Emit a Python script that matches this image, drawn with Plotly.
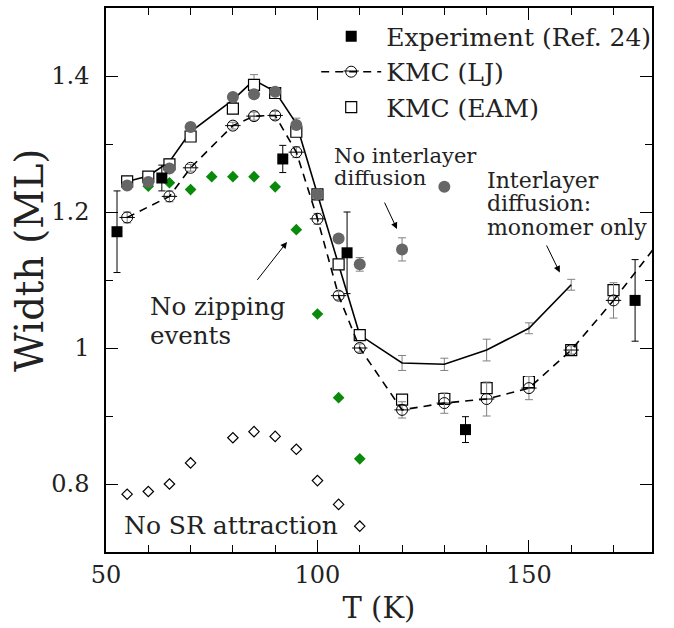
import plotly.graph_objects as go

# ---------------- data ----------------
exp_T = [52.6, 63.2, 91.8, 107.0, 135.0, 175.1]
exp_W = [1.171, 1.250, 1.278, 1.140, 0.880, 1.070]
exp_err = [0.06, 0.019, 0.02, 0.06, 0.019, 0.06]

lj_T = [55, 65, 70, 80, 85, 90, 95, 100, 105, 110, 120, 130, 140, 150, 160, 170]
lj_W = [1.192, 1.223, 1.265, 1.327, 1.341, 1.342, 1.288, 1.190, 1.077, 1.000,
        0.909, 0.919, 0.925, 0.941, 0.997, 1.070]
lj_err = [0.008, 0.008, 0.005, 0.005, 0.006, 0.006, 0.008, 0.008, 0.006, 0.006,
          0.012, 0.015, 0.025, 0.017, 0.006, 0.026]
lj_tail_T = [180]
lj_tail_W = [1.15]

eam_T = [55, 60, 65, 70, 80, 85, 90, 95, 100, 105, 110, 120, 130, 140, 150, 160, 170]
eam_W = [1.245, 1.252, 1.270, 1.311, 1.352, 1.387, 1.375, 1.318, 1.226, 1.123, 1.019,
         0.924, 0.925, 0.941, 0.950, 0.997, 1.085]

mono_T = [55, 60, 65, 70, 80, 85, 90, 95, 100, 105, 110, 120, 130, 140, 150, 160]
mono_W = [1.245, 1.253, 1.274, 1.318, 1.365, 1.394, 1.377, 1.330, 1.226, 1.123, 1.019,
          0.978, 0.976, 0.997, 1.029, 1.093]
mono_err = [0.004, 0.004, 0.004, 0.004, 0.004, 0.008, 0.004, 0.008, 0.004, 0.004, 0.006,
            0.011, 0.009, 0.016, 0.008, 0.008]

noil_T = [55, 60, 65, 70, 80, 85, 90, 95, 100, 105, 110, 120, 130]
noil_W = [1.239, 1.244, 1.264, 1.325, 1.369, 1.373, 1.377, 1.328, 1.226, 1.161, 1.123,
          1.145, 1.237]
noil_err = [0, 0, 0, 0, 0, 0, 0, 0, 0, 0, 0.01, 0.017, 0]

nozip_T = [55, 60, 65, 70, 75, 80, 85, 90, 95, 100, 105, 110]
nozip_W = [1.245, 1.238, 1.243, 1.233, 1.252, 1.252, 1.252, 1.237, 1.174, 1.050, 0.927, 0.837]

nosr_T = [55, 60, 65, 70, 80, 85, 90, 95, 100, 105, 110]
nosr_W = [0.785, 0.789, 0.800, 0.831, 0.868, 0.877, 0.870, 0.851, 0.805, 0.770, 0.738]

x_ticks = [50, 100, 150]
y_ticks = [0.8, 1.0, 1.2, 1.4]
y_ticktext = ["0.8", "1", "1.2", "1.4"]

FONT = "DejaVu Serif"
TXT = "#222222"
GRAY_ERR = "#808080"

fig = go.Figure()

# No SR attraction (open diamonds)
fig.add_trace(go.Scatter(x=nosr_T, y=nosr_W, mode="markers", showlegend=False,
                         marker=dict(symbol="diamond-open", size=8, color="black",
                                     line=dict(width=1.2, color="black"))))
# No zipping (green diamonds)
fig.add_trace(go.Scatter(x=nozip_T, y=nozip_W, mode="markers", showlegend=False,
                         marker=dict(symbol="diamond", size=9, color="#0a8a0a",
                                     line=dict(width=0))))
# monomer-only solid line with error bars
fig.add_trace(go.Scatter(x=mono_T, y=mono_W, mode="lines", showlegend=False,
                         line=dict(color="black", width=1.6),
                         error_y=dict(type="data", array=mono_err, color=GRAY_ERR,
                                      thickness=1, width=4)))
# LJ dashed tail
fig.add_trace(go.Scatter(x=[lj_T[-1]] + lj_tail_T, y=[lj_W[-1]] + lj_tail_W,
                         mode="lines", showlegend=False,
                         line=dict(color="black", width=1.6, dash="8px,6px")))
# EAM squares
fig.add_trace(go.Scatter(x=eam_T, y=eam_W, mode="markers", name="KMC (EAM)",
                         marker=dict(symbol="square", size=11, color="white",
                                     line=dict(width=1.2, color="black"))))
# LJ dashed with circles
fig.add_trace(go.Scatter(x=lj_T, y=lj_W, mode="lines+markers", name="KMC (LJ)",
                         line=dict(color="black", width=1.6, dash="8px,6px"),
                         marker=dict(symbol="circle-open", size=11, color="black",
                                     line=dict(width=1)),
                         error_y=dict(type="data", array=lj_err, color=GRAY_ERR,
                                      thickness=1, width=4)))
# horizontal bar inside the LJ circles (theta-like symbol); its legend entry is
# overlaid on the KMC (LJ) legend symbol through a second legend
fig.add_trace(go.Scatter(x=lj_T, y=lj_W, mode="markers", name=" ",
                         showlegend=True, legend="legend2",
                         marker=dict(symbol="line-ew-open", size=11, color="black",
                                     line=dict(width=1, color="black"))))
# No interlayer diffusion (gray circles)
fig.add_trace(go.Scatter(x=noil_T, y=noil_W, mode="markers", showlegend=False,
                         marker=dict(symbol="circle", size=12, color="#666666",
                                     line=dict(width=0)),
                         error_y=dict(type="data", array=noil_err, color=GRAY_ERR,
                                      thickness=1, width=4)))
# Experiment
fig.add_trace(go.Scatter(x=exp_T, y=exp_W, mode="markers", name="Experiment (Ref. 24)",
                         marker=dict(symbol="square", size=11, color="black",
                                     line=dict(width=0)),
                         error_y=dict(type="data", array=exp_err, color="black",
                                      thickness=1, width=3.5)))

axis_common = dict(showline=True, linecolor="black", linewidth=1.5, mirror="ticks",
                   ticks="inside", ticklen=12, tickwidth=1.3, tickcolor="black",
                   showgrid=False, zeroline=False,
                   tickfont=dict(family=FONT, size=24, color=TXT))

fig.update_xaxes(range=[50, 179.1], tickvals=x_ticks,
                 minor=dict(dtick=10, tick0=50, ticks="inside", ticklen=7,
                            tickwidth=1.3, tickcolor="black", showgrid=False),
                 title=dict(text="T (K)", font=dict(family=FONT, size=29, color=TXT),
                            standoff=10),
                 **axis_common)
fig.update_yaxes(range=[0.7, 1.5], tickvals=y_ticks, ticktext=y_ticktext,
                 minor=dict(dtick=0.1, tick0=0.7, ticks="inside", ticklen=7,
                            tickwidth=1.3, tickcolor="black", showgrid=False),
                 ticklabelstandoff=10,
                 **axis_common)

ann = []
def txt(x, y, s, size):
    ann.append(dict(x=x, y=y, xref="x", yref="y", text=s, showarrow=False,
                    xanchor="left", yanchor="middle",
                    font=dict(family=FONT, size=size, color=TXT)))

txt(103.4, 1.283, "No interlayer", 21)
txt(103.4, 1.250, "diffusion", 21)
txt(139.6, 1.247, "Interlayer", 22)
txt(139.6, 1.212, "diffusion:", 22)
txt(139.6, 1.177, "monomer only", 22)
txt(59.9, 1.061, "No zipping", 24.5)
txt(59.9, 1.018, "events", 24.5)
txt(53.8, 0.739, "No SR attraction", 25)

def arrow(x0, y0, x1, y1):
    ann.append(dict(x=x1, y=y1, ax=x0, ay=y0, xref="x", yref="y", axref="x", ayref="y",
                    text="", showarrow=True, arrowhead=2, arrowsize=1.3,
                    arrowwidth=1, arrowcolor="black"))

arrow(115.7, 1.216, 118.8, 1.175)
arrow(154.0, 1.153, 157.3, 1.111)
arrow(85.5, 1.098, 92.8, 1.156)

# y-axis title as rotated annotation
ann.append(dict(x=-0.139, y=0.535, xref="paper", yref="paper", text="Width (ML)",
                showarrow=False, textangle=-90, xanchor="center", yanchor="middle",
                font=dict(family=FONT, size=38.5, color=TXT)))

fig.update_layout(
    width=674, height=628,
    margin=dict(l=106, r=22, t=6, b=76),
    paper_bgcolor="white", plot_bgcolor="white",
    annotations=ann,
    showlegend=True,
    legend=dict(x=0.385, y=0.99, xanchor="left", yanchor="top",
                bgcolor="rgba(0,0,0,0)", borderwidth=0,
                itemwidth=60, traceorder="reversed",
                font=dict(family=FONT, size=25, color=TXT)),
    legend2=dict(x=0.385, y=0.926, xanchor="left", yanchor="top",
                 bgcolor="rgba(0,0,0,0)", borderwidth=0,
                 itemwidth=60,
                 font=dict(family=FONT, size=25, color=TXT)),
)

fig.write_html("out.html", config={"displayModeBar": False},
               post_script="document.body.style.margin='0px';document.body.style.padding='0px';")
